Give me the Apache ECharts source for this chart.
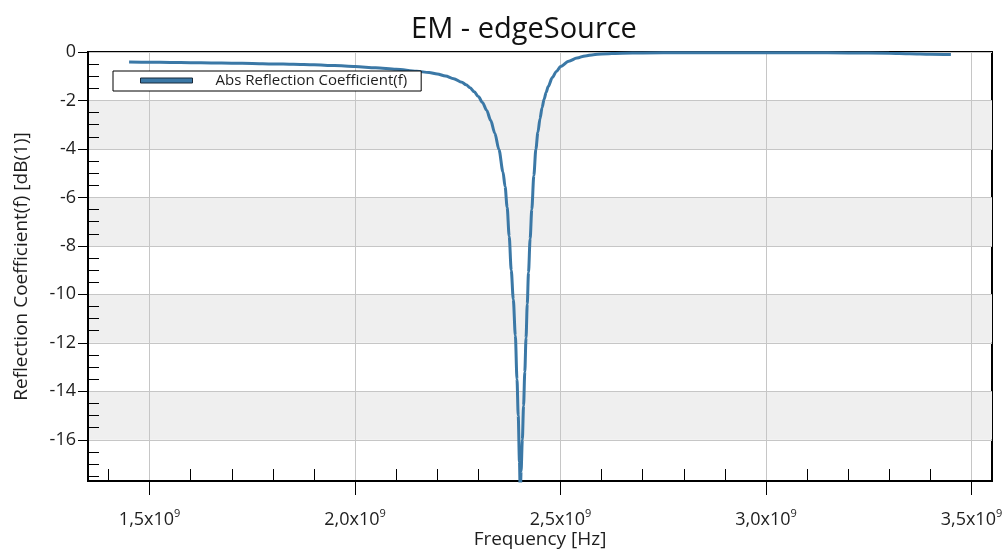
<!DOCTYPE html>
<html>
<head>
<meta charset="utf-8">
<script src="https://cdn.jsdelivr.net/npm/echarts@6/dist/echarts.min.js"></script>
<style>
  html, body { margin: 0; padding: 0; background: #fff; }
  #chart { width: 1007px; height: 552px; }
</style>
</head>
<body>
<div id="chart"></div>
<script>
// Frequency sweep (GHz) and reflection coefficient magnitude (dB)
const freqGHz = [
  1.45, 1.50, 1.55, 1.60, 1.65, 1.70, 1.75, 1.80, 1.85, 1.90, 1.95, 2.00,
  2.05, 2.10, 2.15, 2.18, 2.20, 2.22, 2.24, 2.26, 2.27, 2.28, 2.29, 2.30,
  2.31, 2.32, 2.33, 2.34, 2.35, 2.36, 2.365, 2.37, 2.375, 2.38, 2.385, 2.39,
  2.394, 2.397, 2.400, 2.402, 2.404, 2.407, 2.410, 2.413, 2.416, 2.419, 2.422, 2.426,
  2.430, 2.435, 2.440, 2.445, 2.450, 2.455, 2.460, 2.465, 2.470, 2.480, 2.490, 2.50,
  2.52, 2.54, 2.56, 2.58, 2.60, 2.65, 2.70, 2.80, 2.90, 3.00, 3.10, 3.20,
  3.30, 3.35, 3.40, 3.45
];
const reflDb = [
  -0.41, -0.42, -0.43, -0.44, -0.45, -0.46, -0.47, -0.49, -0.51, -0.53, -0.56, -0.60,
  -0.65, -0.71, -0.79, -0.85, -0.91, -0.99, -1.10, -1.25, -1.35, -1.48, -1.64, -1.84,
  -2.08, -2.40, -2.82, -3.35, -4.02, -4.95, -5.55, -6.40, -7.60, -9.00, -10.2, -11.7,
  -13.5, -15.0, -16.9, -18.3, -17.3, -16.0, -14.6, -13.2, -11.8, -10.4, -9.1, -7.7,
  -6.5, -5.1, -4.0, -3.3, -2.75, -2.30, -1.95, -1.66, -1.42, -1.05, -0.80, -0.60,
  -0.38, -0.25, -0.16, -0.11, -0.08, -0.05, -0.04, -0.03, -0.03, -0.03, -0.03, -0.04,
  -0.05, -0.07, -0.09, -0.10
];

// Axis ticks
const xMajorTicks = [1.5e9, 2.0e9, 2.5e9, 3.0e9, 3.5e9];
const xMinorTicks = [
  1.4e9, 1.6e9, 1.7e9, 1.8e9, 1.9e9, 2.1e9, 2.2e9, 2.3e9, 2.4e9,
  2.6e9, 2.7e9, 2.8e9, 2.9e9, 3.1e9, 3.2e9, 3.3e9, 3.4e9
];
const yMajorTicks = [-16, -14, -12, -10, -8, -6, -4, -2, 0];
const yMinorTicks = [
  -17.5, -17, -16.5, -15.5, -15, -14.5, -13.5, -13, -12.5, -11.5, -11, -10.5,
  -9.5, -9, -8.5, -7.5, -7, -6.5, -5.5, -5, -4.5, -3.5, -3, -2.5, -1.5, -1, -0.5
];

const X_MIN = 1.35e9, X_MAX = 3.55e9;
const Y_MIN = -17.7, Y_MAX = 0;

const seriesData = freqGHz.map((f, i) => [f * 1e9, reflDb[i]]);

const FONT = '"Open Sans", "Noto Sans", sans-serif';
const TEXT = '#1e1e1e';
const LINE_BLUE = '#3b78a6';

const chart = echarts.init(document.getElementById('chart'), null, { renderer: 'canvas' });

chart.setOption({
  backgroundColor: '#ffffff',
  animation: false,
  textStyle: { fontFamily: FONT },
  title: {
    text: 'EM - edgeSource',
    left: 519,
    top: 10,
    textAlign: 'center',
    textStyle: { fontFamily: FONT, fontSize: 29, fontWeight: 'normal', color: '#111' }
  },
  legend: {
    left: 113,
    top: 71,
    orient: 'horizontal',
    backgroundColor: '#ffffff',
    borderColor: '#000',
    borderWidth: 1,
    borderRadius: 0,
    padding: [2, 14, 3, 27],
    itemWidth: 52,
    itemHeight: 5,
    icon: 'rect',
    itemStyle: { borderColor: '#1a2a3a', borderWidth: 1 },
    textStyle: { fontFamily: FONT, fontSize: 15, color: TEXT, padding: [0, 0, 0, 18] },
    data: ['Abs Reflection Coefficient(f)']
  },
  grid: {
    left: 88, right: 15, top: 52, bottom: 71,
    show: true,
    borderColor: '#000',
    borderWidth: 2,
    backgroundColor: 'transparent',
    containLabel: false,
    outerBoundsMode: 'none'
  },
  xAxis: [
    {
      type: 'value',
      position: 'bottom',
      min: X_MIN, max: X_MAX,
      name: 'Frequency [Hz]',
      nameLocation: 'middle',
      nameGap: 49,
      nameMoveOverlap: false,
      nameTextStyle: { fontFamily: FONT, fontSize: 19, color: TEXT },
      axisLine: { show: true, onZero: false, lineStyle: { color: '#000', width: 2 } },
      axisTick: { show: true, inside: false, length: 14, customValues: xMajorTicks,
                  lineStyle: { color: '#000', width: 1 } },
      axisLabel: {
        show: true, margin: 27, customValues: xMajorTicks,
        formatter: v => '{m|' + (v / 1e9).toFixed(1).replace('.', ',') + 'x10}{s|9}',
        rich: {
          m: { fontFamily: FONT, fontSize: 18, color: TEXT },
          s: { fontFamily: FONT, fontSize: 11, color: TEXT, padding: [0, 0, 12, 0] }
        }
      },
      splitLine: { show: true, lineStyle: { color: '#c6c6c6', width: 1 } },
      splitArea: { show: false }
    },
    {
      type: 'value',
      position: 'bottom',
      min: X_MIN, max: X_MAX,
      axisLine: { show: false, onZero: false },
      axisTick: { show: true, inside: true, length: 12, customValues: xMinorTicks,
                  lineStyle: { color: '#000', width: 1 } },
      axisLabel: { show: false },
      splitLine: { show: false }
    }
  ],
  yAxis: [
    {
      type: 'value',
      position: 'left',
      min: Y_MIN, max: Y_MAX,
      name: 'Reflection Coefficient(f) [dB(1)]',
      nameLocation: 'middle',
      nameGap: 57,
      nameMoveOverlap: false,
      nameTextStyle: { fontFamily: FONT, fontSize: 19, color: TEXT },
      axisLine: { show: true, onZero: false, lineStyle: { color: '#000', width: 2 } },
      axisTick: { show: true, inside: false, length: 10, customValues: yMajorTicks,
                  lineStyle: { color: '#000', width: 1 } },
      axisLabel: { show: true, margin: 12, customValues: yMajorTicks,
                   fontFamily: FONT, fontSize: 18, color: TEXT },
      splitLine: { show: true, lineStyle: { color: '#c6c6c6', width: 1 } },
      splitArea: { show: true, areaStyle: { color: ['#efefef', 'rgba(255,255,255,0)'] } }
    },
    {
      type: 'value',
      position: 'left',
      min: Y_MIN, max: Y_MAX,
      axisLine: { show: false, onZero: false },
      axisTick: { show: true, inside: true, length: 11, customValues: yMinorTicks,
                  lineStyle: { color: '#000', width: 1 } },
      axisLabel: { show: false },
      splitLine: { show: false }
    }
  ],
  series: [
    {
      name: 'Abs Reflection Coefficient(f)',
      type: 'line',
      xAxisIndex: 0,
      yAxisIndex: 0,
      data: seriesData,
      showSymbol: false,
      symbol: 'none',
      clip: true,
      smooth: 0.3,
      smoothMonotone: 'x',
      itemStyle: { color: LINE_BLUE },
      lineStyle: { color: LINE_BLUE, width: 3 },
      z: 3
    }
  ]
});
</script>
</body>
</html>
